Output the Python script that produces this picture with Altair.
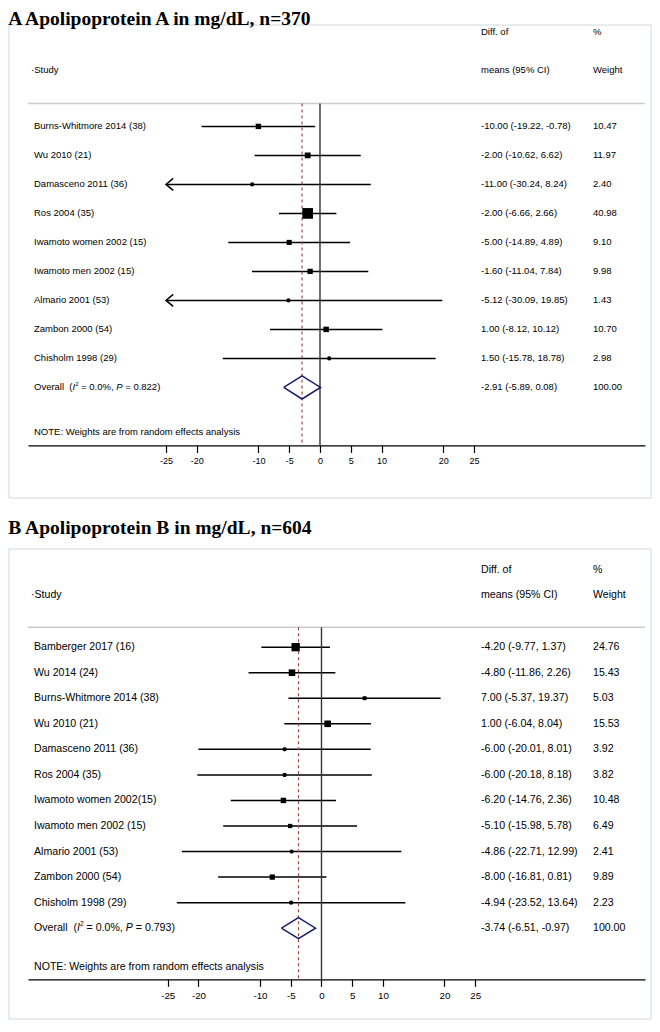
import altair as alt
import pandas as pd

# ---------------- data: panel A ----------------
a_title = "A Apolipoprotein A in mg/dL, n=370"
a_studies = ["Burns-Whitmore 2014 (38)", "Wu 2010 (21)", "Damasceno 2011 (36)", "Ros 2004 (35)",
             "Iwamoto women 2002 (15)", "Iwamoto men 2002 (15)", "Almario 2001 (53)",
             "Zambon 2000 (54)", "Chisholm 1998 (29)"]
a_est = [-10.00, -2.00, -11.00, -2.00, -5.00, -1.60, -5.12, 1.00, 1.50]
a_lo = [-19.22, -10.62, -30.24, -6.66, -14.89, -11.04, -30.09, -8.12, -15.78]
a_hi = [-0.78, 6.62, 8.24, 2.66, 4.89, 7.84, 19.85, 10.12, 18.78]
a_w = [10.47, 11.97, 2.40, 40.98, 9.10, 9.98, 1.43, 10.70, 2.98]
a_overall = [-2.91, -5.89, 0.08]
a_i2 = "0.0%"
a_p = "0.822"

# ---------------- data: panel B ----------------
b_title = "B Apolipoprotein B in mg/dL, n=604"
b_studies = ["Bamberger 2017 (16)", "Wu 2014 (24)", "Burns-Whitmore 2014 (38)", "Wu 2010 (21)",
             "Damasceno 2011 (36)", "Ros 2004 (35)", "Iwamoto women 2002(15)",
             "Iwamoto men 2002 (15)", "Almario 2001 (53)", "Zambon 2000 (54)", "Chisholm 1998 (29)"]
b_est = [-4.20, -4.80, 7.00, 1.00, -6.00, -6.00, -6.20, -5.10, -4.86, -8.00, -4.94]
b_lo = [-9.77, -11.86, -5.37, -6.04, -20.01, -20.18, -14.76, -15.98, -22.71, -16.81, -23.52]
b_hi = [1.37, 2.26, 19.37, 8.04, 8.01, 8.18, 2.36, 5.78, 12.99, 0.81, 13.64]
b_w = [24.76, 15.43, 5.03, 15.53, 3.92, 3.82, 10.48, 6.49, 2.41, 9.89, 2.23]
b_overall = [-3.74, -6.51, -0.97]
b_i2 = "0.0%"
b_p = "0.793"

tick_values = [-25, -20, -10, -5, 0, 5, 10, 20, 25]
note_text = "NOTE: Weights are from random effects analysis"
header1 = ["Diff. of", "means (95% CI)"]
header2 = ["%", "Weight"]
study_header = "·Study"
clip_limit = 25

FONT = "Liberation Sans"
W = 617
X_STUDY, X_CI, X_WT = 6, 453, 565
FRAME_COLOR = "#e0e7ea"

# Arial / Liberation Sans advance widths (per 1000 em), used to place italic pieces
ADV = {" ": 278, "(": 333, ")": 333, "=": 584, ".": 278, ",": 278, "%": 889, "I": 278,
       "P": 667, "O": 778, "v": 500, "e": 556, "r": 333, "a": 556, "l": 222}


def text_w(s, fs):
    return sum(ADV.get(c, 556) for c in s) * fs / 1000.0


def fmt(v):
    return f"{v:.2f}"


def panel(title, studies, est, lo, hi, w, overall, i2, pval, x_domain, row_px, top_row,
          head_rows, line_row, note_row, diamond_h, fs, tick_fs, title_offset, title_dy,
          frame_box):
    n = len(studies)
    ov_row = n
    axis_row = n + 2
    H = (axis_row - top_row) * row_px
    df = pd.DataFrame({"study": studies, "est": est, "lo": lo, "hi": hi, "w": w})
    df["row"] = list(range(n))
    df["ci"] = [f"{fmt(e)} ({fmt(l)}, {fmt(h)})" for e, l, h in zip(est, lo, hi)]
    df["wt"] = [fmt(v) for v in w]
    df["lo_c"] = df["lo"].clip(lower=-clip_limit)
    df["hi_c"] = df["hi"].clip(upper=clip_limit)

    xs = alt.Scale(domain=x_domain, nice=False, zero=False)
    ys = alt.Scale(domain=[top_row, axis_row], reverse=True, nice=False, zero=False)
    one = pd.DataFrame({"k": [0]})

    fx1, fx2, fy1, fy2 = frame_box
    frame = alt.Chart(one).mark_rect(fillOpacity=0, stroke=FRAME_COLOR, strokeWidth=1.5).encode(
        x=alt.value(fx1), x2=alt.value(fx2), y=alt.value(fy1), y2=alt.value(fy2))

    ci = alt.Chart(df).mark_rule(color="black", strokeWidth=1.5).encode(
        x=alt.X("lo_c:Q", scale=xs, axis=alt.Axis(
            values=tick_values, title=None, grid=False, domainColor="black", domainWidth=1.2,
            tickColor="black", tickWidth=1.2, tickSize=7, labelFont=FONT, labelFontSize=tick_fs,
            labelColor="black", labelPadding=4, labelExpr="'' + datum.value")),
        x2="hi_c:Q",
        y=alt.Y("row:Q", scale=ys, axis=None),
    )
    header_line = alt.Chart(one).mark_rule(color="#cccccc", strokeWidth=1.5).encode(
        x=alt.value(0), x2=alt.value(W), y=alt.datum(line_row))
    zero_line = alt.Chart(one).mark_rule(color="#333333", strokeWidth=1.4).encode(
        x=alt.datum(0), y=alt.datum(line_row), y2=alt.datum(axis_row))
    ov_line = alt.Chart(one).mark_rule(color="#9e4a4a", strokeWidth=1.2, strokeDash=[3, 3]).encode(
        x=alt.datum(overall[0]), y=alt.datum(line_row), y2=alt.datum(axis_row))

    arrows = alt.Chart(df[df["lo"] < -clip_limit]).mark_point(
        shape="M 1.2 -1 L 0 0 L 1.2 1", filled=False, size=144, strokeWidth=1.5,
        color="black", opacity=1).encode(x="lo_c:Q", y="row:Q")
    squares = alt.Chart(df).mark_square(color="black", opacity=1).encode(
        x="est:Q", y="row:Q",
        size=alt.Size("w:Q", scale=alt.Scale(domain=[0, 100], range=[0, 280]), legend=None))
    dots = alt.Chart(df).mark_circle(color="black", size=18, opacity=1).encode(x="est:Q", y="row:Q")

    dia = pd.DataFrame({
        "x": [overall[1], overall[0], overall[2], overall[0], overall[1]],
        "y": [ov_row, ov_row - diamond_h, ov_row, ov_row + diamond_h, ov_row],
        "o": [0, 1, 2, 3, 4]})
    diamond = alt.Chart(dia).mark_line(color="#1c1c6b", strokeWidth=1.5).encode(
        x="x:Q", y="y:Q", order="o:Q")

    txt = dict(align="left", baseline="middle", font=FONT, fontSize=fs, color="black")
    t_study = alt.Chart(df).mark_text(**txt).encode(x=alt.value(X_STUDY), y="row:Q", text="study:N")
    t_ci = alt.Chart(df).mark_text(**txt).encode(x=alt.value(X_CI), y="row:Q", text="ci:N")
    t_wt = alt.Chart(df).mark_text(**txt).encode(x=alt.value(X_WT), y="row:Q", text="wt:N")

    ov_df = pd.DataFrame({"row": [ov_row],
                          "ci": [f"{fmt(overall[0])} ({fmt(overall[1])}, {fmt(overall[2])})"],
                          "wt": [fmt(100)]})
    o_ci = alt.Chart(ov_df).mark_text(**txt).encode(x=alt.value(X_CI), y="row:Q", text="ci:N")
    o_wt = alt.Chart(ov_df).mark_text(**txt).encode(x=alt.value(X_WT), y="row:Q", text="wt:N")

    # Overall label built from pieces so that I and P are italic and 2 is a superscript.
    # (text, style, size, dy, spaces before)
    sup = fs * 0.62
    pieces = [("Overall", "normal", fs, 0, 0), ("(", "normal", fs, 0, 2),
              ("I", "italic", fs, 0, 0), ("2", "normal", sup, -fs * 0.38, 0),
              ("= " + i2 + ",", "normal", fs, 0, 1), ("P", "italic", fs, 0, 1),
              ("= " + pval + ")", "normal", fs, 0, 1)]
    o_layers = []
    xpos = X_STUDY
    for s, style, size, dy, gap in pieces:
        xpos += text_w(" " * gap, fs)
        o_layers.append(alt.Chart(ov_df).mark_text(
            align="left", baseline="middle", font=FONT, fontSize=size, fontStyle=style,
            color="black", dy=dy).encode(x=alt.value(xpos), y="row:Q", text=alt.value(s)))
        xpos += text_w(s, size)

    h1 = alt.Chart(pd.DataFrame({"t": header1, "r": head_rows})).mark_text(**txt).encode(
        x=alt.value(X_CI), y="r:Q", text="t:N")
    h2 = alt.Chart(pd.DataFrame({"t": header2, "r": head_rows})).mark_text(**txt).encode(
        x=alt.value(X_WT), y="r:Q", text="t:N")
    h0 = alt.Chart(pd.DataFrame({"t": [study_header], "r": [head_rows[1]]})).mark_text(**txt).encode(
        x=alt.value(X_STUDY - 3), y="r:Q", text="t:N")
    note = alt.Chart(pd.DataFrame({"t": [note_text], "r": [note_row]})).mark_text(**txt).encode(
        x=alt.value(X_STUDY), y="r:Q", text="t:N")

    layer = alt.layer(frame, ci, header_line, zero_line, ov_line, arrows, squares, dots, diamond,
                      t_study, t_ci, t_wt, o_ci, o_wt, *o_layers, h1, h2, h0, note).properties(
        width=W, height=H,
        title=alt.TitleParams(title, font="Liberation Serif", fontSize=19.5, fontWeight="bold",
                              anchor="start", dx=0, dy=title_dy, offset=title_offset,
                              color="black"))
    return layer


pa = panel(a_title, a_studies, a_est, a_lo, a_hi, a_w, a_overall, a_i2, a_p,
           x_domain=[-47.4, 52.76], row_px=29, top_row=-3.6, head_rows=[-3.24, -1.93],
           line_row=-0.79, note_row=10.55, diamond_h=0.4, fs=9.5, tick_fs=9,
           title_offset=-12, title_dy=-5, frame_box=(-19, 623, 3, 476))
pb = panel(b_title, b_studies, b_est, b_lo, b_hi, b_w, b_overall, b_i2, b_p,
           x_domain=[-47.72, 52.6], row_px=25.55, top_row=-3.45, head_rows=[-3.01, -2.04],
           line_row=-0.78, note_row=12.53, diamond_h=0.41, fs=10.6, tick_fs=9.8,
           title_offset=10, title_dy=0, frame_box=(-19, 623, -10, 460))

chart = alt.vconcat(pa, pb, spacing=18).properties(
    padding={"left": 0, "top": 0, "right": 0, "bottom": 0}
).configure_view(stroke=None)

chart.save("out.html", embed_options={"renderer": "svg", "actions": False})
